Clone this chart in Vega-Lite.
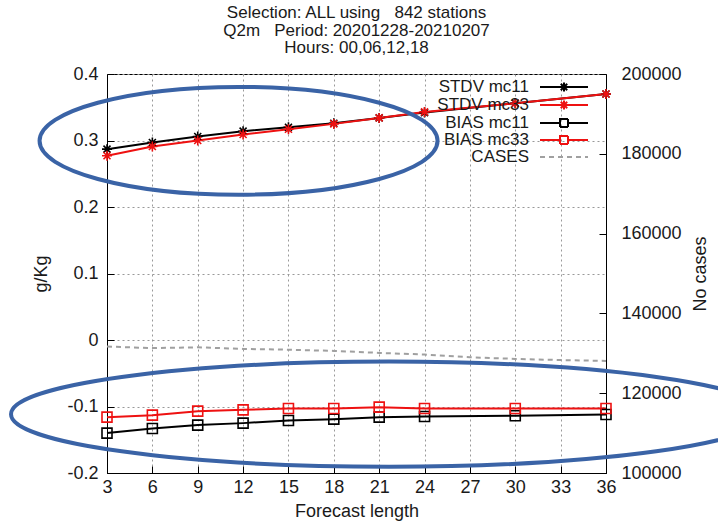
{
  "$schema": "https://vega.github.io/schema/vega-lite/v6.json",
  "width": 499,
  "height": 399,
  "autosize": {"type": "none"},
  "padding": {"left": 107, "top": 74, "right": 112, "bottom": 52},
  "background": "white",
  "config": {
    "font": "Liberation Sans",
    "view": {"stroke": "black", "strokeWidth": 1},
    "axis": {
      "labelFont": "Liberation Sans",
      "titleFont": "Liberation Sans",
      "labelFontSize": 18,
      "titleFontSize": 18,
      "titleFontWeight": "normal",
      "labelColor": "#1a1a1a",
      "titleColor": "#1a1a1a",
      "domainColor": "black",
      "tickColor": "black",
      "tickSize": -7,
      "gridColor": "#999999",
      "gridDash": [2, 3],
      "gridWidth": 1
    },
    "title": {
      "font": "Liberation Sans",
      "fontSize": 17,
      "fontWeight": "normal",
      "color": "#1a1a1a",
      "lineHeight": 17.5,
      "anchor": "middle",
      "offset": 8
    }
  },
  "title": {
    "text": ["Selection: ALL using \u00a0\u00a0842 stations", "Q2m \u00a0\u00a0Period: 20201228-20210207", "Hours: 00,06,12,18"]
  },
  "resolve": {"scale": {"y": "independent"}},
  "layer": [
    {
      "resolve": {"scale": {"shape": "independent", "size": "independent"}},
      "layer": [
        {
          "data": {"name": "scores"},
          "mark": {"type": "line", "strokeWidth": 2},
          "encoding": {
            "x": {
              "field": "h", "type": "quantitative",
              "scale": {"domain": [3, 36], "nice": false},
              "axis": {"values": [3, 6, 9, 12, 15, 18, 21, 24, 27, 30, 33, 36], "title": "Forecast length", "labelPadding": 12, "titlePadding": 6, "grid": true, "labelFlush": false}
            },
            "y": {
              "field": "v", "type": "quantitative",
              "scale": {"domain": [-0.2, 0.4], "nice": false, "zero": false},
              "axis": {"values": [-0.2, -0.1, 0, 0.1, 0.2, 0.3, 0.4], "title": "g/Kg", "labelPadding": 16, "titlePadding": 16, "grid": true, "labelExpr": "datum.value == 0 ? '0' : toString(round(datum.value*10)/10)"}
            },
            "color": {
              "field": "series", "type": "nominal",
              "scale": {"domain": ["STDV mc11", "STDV mc33", "BIAS mc11", "BIAS mc33", "CASES"], "range": ["black", "#ee1111", "black", "#ee1111", "#a0a0a0"]},
              "legend": {
                "orient": "none", "legendX": 448, "legendY": 4, "title": null,
                "direction": "vertical", "columns": 1, "padding": 0,
                "labelFont": "Liberation Sans", "labelFontSize": 17, "labelColor": "#1a1a1a",
                "labelAlign": "right", "labelOffset": -44, "labelLimit": 300,
                "symbolSize": 256, "symbolStrokeWidth": 2, "rowPadding": 0,
                "encode": {
                  "symbols": {
                    "update": {
                      "shape": {"signal": "datum.value == 'CASES' ? 'M-3,0L3,0' : (indexof(datum.value, 'STDV') >= 0 ? 'M-3,0L3,0M0,-0.56L0,0.56M-0.4,-0.4L0.4,0.4M-0.4,0.4L0.4,-0.4' : 'M-3,0L-0.5,0M0.5,0L3,0M-0.5,-0.5L0.5,-0.5L0.5,0.5L-0.5,0.5Z')"},
                      "strokeDash": {"signal": "datum.value == 'CASES' ? [5, 4] : [1, 0]"},
                      "fill": {"value": "transparent"}
                    }
                  }
                }
              }
            },
            "detail": {"field": "series"}
          }
        },
        {
          "data": {"name": "scores"},
          "mark": {"type": "point", "filled": false, "strokeWidth": 1.6, "opacity": 1},
          "encoding": {
            "x": {"field": "h", "type": "quantitative"},
            "y": {"field": "v", "type": "quantitative"},
            "color": {"field": "series", "type": "nominal", "legend": null},
            "shape": {
              "field": "series", "type": "nominal",
              "scale": {"domain": ["STDV mc11", "STDV mc33", "BIAS mc11", "BIAS mc33"], "range": ["M-1,0L1,0M0,-1L0,1M-0.7,-0.7L0.7,0.7M-0.7,0.7L0.7,-0.7", "M-1,0L1,0M0,-1L0,1M-0.7,-0.7L0.7,0.7M-0.7,0.7L0.7,-0.7", "square", "square"]},
              "legend": null
            },
            "size": {
              "field": "series", "type": "nominal",
              "scale": {"domain": ["STDV mc11", "STDV mc33", "BIAS mc11", "BIAS mc33"], "range": [100, 100, 70, 70]},
              "legend": null
            }
          }
        },
        {
          "data": {"name": "notes"},
          "mark": {"type": "point", "filled": false, "stroke": "#3a63a6", "strokeWidth": 4, "opacity": 1},
          "encoding": {
            "x": {"field": "h", "type": "quantitative"},
            "y": {"field": "v", "type": "quantitative"},
            "shape": {
              "field": "note", "type": "nominal",
              "scale": {"domain": ["upper", "lower"], "range": ["M-1,0A1,0.271 0 1,0 1,0A1,0.271 0 1,0 -1,0", "M-1,0A1,0.139 0 1,0 1,0A1,0.139 0 1,0 -1,0"]},
              "legend": null
            },
            "size": {
              "field": "note", "type": "nominal",
              "scale": {"domain": ["upper", "lower"], "range": [158404, 571536]},
              "legend": null
            }
          }
        }
      ]
    },
    {
      "data": {"name": "cases"},
      "mark": {"type": "line", "strokeWidth": 2, "strokeDash": [5, 4], "color": "#a0a0a0"},
      "encoding": {
        "x": {"field": "h", "type": "quantitative"},
        "y": {
          "field": "cases", "type": "quantitative",
          "scale": {"domain": [100000, 200000], "nice": false, "zero": false},
          "axis": {"orient": "right", "values": [100000, 120000, 140000, 160000, 180000, 200000], "format": "d", "title": "No cases", "titleAngle": 270, "labelPadding": 22, "titlePadding": 28, "grid": false}
        }
      }
    }
  ],
  "datasets": {
    "scores": [
      {"h": 3, "series": "STDV mc11", "v": 0.287},
      {"h": 6, "series": "STDV mc11", "v": 0.297},
      {"h": 9, "series": "STDV mc11", "v": 0.306},
      {"h": 12, "series": "STDV mc11", "v": 0.314},
      {"h": 15, "series": "STDV mc11", "v": 0.320},
      {"h": 18, "series": "STDV mc11", "v": 0.326},
      {"h": 21, "series": "STDV mc11", "v": 0.334},
      {"h": 24, "series": "STDV mc11", "v": 0.342},
      {"h": 30, "series": "STDV mc11", "v": 0.356},
      {"h": 36, "series": "STDV mc11", "v": 0.370},
      {"h": 3, "series": "STDV mc33", "v": 0.277},
      {"h": 6, "series": "STDV mc33", "v": 0.291},
      {"h": 9, "series": "STDV mc33", "v": 0.300},
      {"h": 12, "series": "STDV mc33", "v": 0.309},
      {"h": 15, "series": "STDV mc33", "v": 0.317},
      {"h": 18, "series": "STDV mc33", "v": 0.325},
      {"h": 21, "series": "STDV mc33", "v": 0.334},
      {"h": 24, "series": "STDV mc33", "v": 0.343},
      {"h": 30, "series": "STDV mc33", "v": 0.356},
      {"h": 36, "series": "STDV mc33", "v": 0.370},
      {"h": 3, "series": "BIAS mc11", "v": -0.140},
      {"h": 6, "series": "BIAS mc11", "v": -0.133},
      {"h": 9, "series": "BIAS mc11", "v": -0.128},
      {"h": 12, "series": "BIAS mc11", "v": -0.125},
      {"h": 15, "series": "BIAS mc11", "v": -0.121},
      {"h": 18, "series": "BIAS mc11", "v": -0.119},
      {"h": 21, "series": "BIAS mc11", "v": -0.116},
      {"h": 24, "series": "BIAS mc11", "v": -0.115},
      {"h": 30, "series": "BIAS mc11", "v": -0.114},
      {"h": 36, "series": "BIAS mc11", "v": -0.112},
      {"h": 3, "series": "BIAS mc33", "v": -0.116},
      {"h": 6, "series": "BIAS mc33", "v": -0.113},
      {"h": 9, "series": "BIAS mc33", "v": -0.107},
      {"h": 12, "series": "BIAS mc33", "v": -0.105},
      {"h": 15, "series": "BIAS mc33", "v": -0.103},
      {"h": 18, "series": "BIAS mc33", "v": -0.103},
      {"h": 21, "series": "BIAS mc33", "v": -0.101},
      {"h": 24, "series": "BIAS mc33", "v": -0.103},
      {"h": 30, "series": "BIAS mc33", "v": -0.103},
      {"h": 36, "series": "BIAS mc33", "v": -0.103}
    ],
    "cases": [
      {"h": 3, "cases": 131700},
      {"h": 6, "cases": 131300},
      {"h": 9, "cases": 131500},
      {"h": 12, "cases": 131100},
      {"h": 15, "cases": 130900},
      {"h": 18, "cases": 130600},
      {"h": 21, "cases": 130100},
      {"h": 24, "cases": 129700},
      {"h": 27, "cases": 129000},
      {"h": 30, "cases": 128600},
      {"h": 33, "cases": 128300},
      {"h": 36, "cases": 128100}
    ],
    "notes": [
      {"note": "upper", "h": 11.7, "v": 0.2995},
      {"note": "lower", "h": 21.65, "v": -0.1115}
    ]
  }
}
